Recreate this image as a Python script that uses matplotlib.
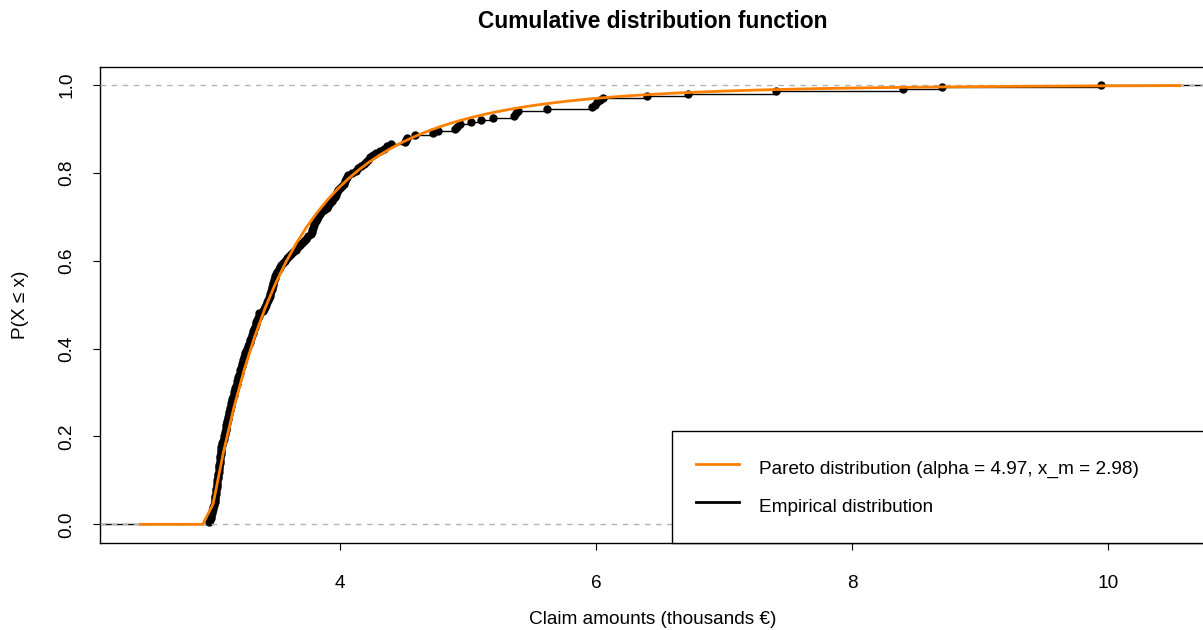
import numpy as np
import matplotlib
matplotlib.use('Agg')
import matplotlib.pyplot as plt
from matplotlib.lines import Line2D

plt.rcParams['font.family'] = ['Liberation Sans', 'DejaVu Sans']

claims = [
    2.980, 2.985, 2.990, 2.995, 3.000, 3.003, 3.007, 3.010, 3.015, 3.020,
    3.022, 3.025, 3.027, 3.030, 3.032, 3.035, 3.037, 3.039, 3.041, 3.043,
    3.045, 3.047, 3.049, 3.051, 3.053, 3.055, 3.057, 3.059, 3.061, 3.063,
    3.065, 3.067, 3.068, 3.070, 3.074, 3.078, 3.082, 3.086, 3.090, 3.094,
    3.098, 3.102, 3.106, 3.110, 3.113, 3.117, 3.120, 3.124, 3.128, 3.131,
    3.135, 3.139, 3.142, 3.146, 3.150, 3.155, 3.160, 3.164, 3.169, 3.174,
    3.178, 3.183, 3.187, 3.192, 3.196, 3.200, 3.205, 3.210, 3.216, 3.221,
    3.226, 3.231, 3.236, 3.241, 3.246, 3.251, 3.256, 3.261, 3.266, 3.271,
    3.279, 3.287, 3.294, 3.300, 3.306, 3.312, 3.318, 3.324, 3.330, 3.335,
    3.341, 3.347, 3.352, 3.358, 3.364, 3.370, 3.395, 3.405, 3.415, 3.425,
    3.432, 3.440, 3.445, 3.450, 3.455, 3.460, 3.465, 3.470, 3.475, 3.480,
    3.485, 3.490, 3.495, 3.500, 3.510, 3.520, 3.530, 3.540, 3.555, 3.570,
    3.585, 3.600, 3.615, 3.635, 3.655, 3.675, 3.690, 3.705, 3.720, 3.735,
    3.750, 3.770, 3.778, 3.783, 3.788, 3.794, 3.800, 3.810, 3.820, 3.830,
    3.840, 3.855, 3.875, 3.895, 3.910, 3.920, 3.935, 3.948, 3.958, 3.968,
    3.977, 3.985, 4.000, 4.018, 4.035, 4.042, 4.050, 4.058, 4.065, 4.090,
    4.125, 4.140, 4.165, 4.190, 4.205, 4.220, 4.232, 4.260, 4.285, 4.310,
    4.340, 4.370, 4.400, 4.505, 4.515, 4.525, 4.586, 4.727, 4.766, 4.898,
    4.915, 4.938, 5.023, 5.102, 5.195, 5.360, 5.375, 5.391, 5.617, 5.969,
    5.990, 6.010, 6.030, 6.055, 6.398, 6.719, 7.406, 8.398, 8.703, 9.945,
]

# fitted Pareto parameters (from the legend)
alpha = 4.97
x_m = 2.98
grid_from, grid_to, grid_n = 2.44, 10.56, 101

x = np.sort(np.array(claims))
n = len(x)
F = np.arange(1, n + 1) / n

grid = np.linspace(grid_from, grid_to, grid_n)
pareto_cdf = np.where(grid < x_m, 0.0, 1 - (x_m / grid) ** alpha)

fig = plt.figure(figsize=(12.03, 6.30), dpi=100)
ax = fig.add_axes([100 / 1203, 87 / 630, 1106 / 1203, 476 / 630])
xlo, xhi = 2.125, 10.766
ax.set_xlim(xlo, xhi)
ax.set_ylim(-0.0425, 1.0405)

# empirical step function: horizontal pieces only, as R's plot.ecdf does
ax.hlines(F[:-1], x[:-1], x[1:], color='black', lw=1, zorder=2)
ax.hlines([0, 1], [xlo, x[-1]], [x[0], xhi], color='black', lw=1, zorder=2)
ax.plot(x, F, 'o', color='black', ms=5, zorder=3)

for h in (0, 1):
    ax.axhline(h, color='#b3b3b3', lw=1, ls=(0, (4, 4)), zorder=4)

ax.plot(grid, pareto_cdf, color='#ff7f00', lw=2, zorder=5)

fs = 13.7
ax.set_title('Cumulative distribution function', fontsize=16.4,
             fontweight='bold', pad=28)
ax.set_xlabel('Claim amounts (thousands €)', fontsize=fs, va='center')
ax.xaxis.set_label_coords(0.5, -0.16)
ax.set_ylabel('P(X ≤ x)', fontsize=fs, va='center')
ax.yaxis.set_label_coords(-0.072, 0.5)

ax.set_xticks([4, 6, 8, 10])
ax.set_yticks([0, 0.2, 0.4, 0.6, 0.8, 1.0])
ax.set_yticklabels(['0.0', '0.2', '0.4', '0.6', '0.8', '1.0'],
                   rotation=90, va='center')
ax.tick_params(axis='both', direction='out', length=5, width=0.8,
               labelsize=fs, color='black')
ax.tick_params(axis='x', pad=18)
ax.tick_params(axis='y', pad=12.5)
for s in ax.spines.values():
    s.set_linewidth(1)
    s.set_color('black')

handles = [Line2D([], [], color='#ff7f00', lw=2),
           Line2D([], [], color='black', lw=2)]
labels = ['Pareto distribution (alpha = %.2f, x_m = %.2f)' % (alpha, x_m),
          'Empirical distribution']
leg = ax.legend(handles, labels, loc='lower left', mode='expand',
                bbox_to_anchor=(572 / 1106, 0, 1 - 572 / 1106 + 0.01, 0.3),
                borderaxespad=0, fontsize=fs, frameon=True, fancybox=False,
                edgecolor='black', framealpha=1, borderpad=1.25,
                handlelength=2.26, handleheight=1.8, handletextpad=1.05,
                labelspacing=0.57)
leg.get_frame().set_linewidth(1)
leg.set_zorder(10)

fig.savefig('out.png', dpi=100)
